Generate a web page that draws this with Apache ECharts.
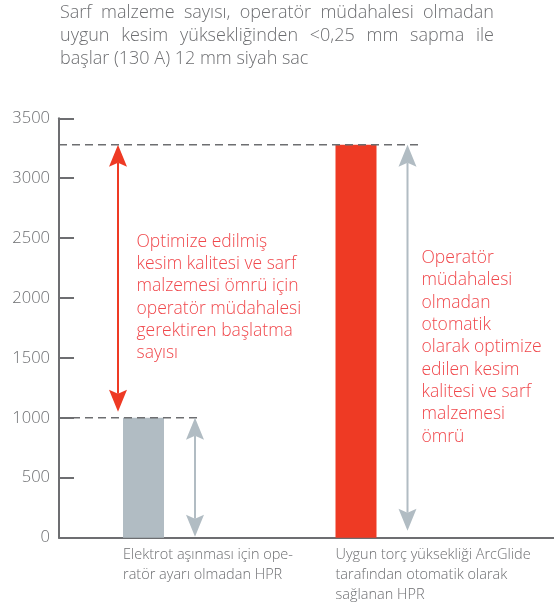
<!DOCTYPE html>
<html>
<head>
<meta charset="utf-8">
<script src="https://cdn.jsdelivr.net/npm/echarts@6/dist/echarts.min.js"></script>
<style>
html, body { margin: 0; padding: 0; background: #fff; }
#main { width: 554px; height: 604px; }
</style>
</head>
<body>
<div id="main"></div>
<script>
// data
var categories = [
    'Elektrot aşınması için ope-\nratör ayarı olmadan HPR',
    'Uygun torç yüksekliği ArcGlide\ntarafından otomatik olarak\nsağlanan HPR'
];
var values = [1000, 3280];
var barColors = ['#b1bcc3', '#ee3a24'];
var yTicks = { min: 0, max: 3500, interval: 500 };
var titleLines = [
    'Sarf malzeme sayısı, operatör müdahalesi olmadan',
    'uygun kesim yüksekliğinden <0,25 mm sapma ile',
    'başlar (130 A) 12 mm siyah sac'
];
var leftNote = 'Optimize edilmiş\nkesim kalitesi ve sarf\nmalzemesi ömrü için\noperatör müdahalesi\ngerektiren başlatma\nsayısı';
var rightNote = 'Operatör\nmüdahalesi\nolmadan\notomatik\nolarak optimize\nedilen kesim\nkalitesi ve sarf\nmalzemesi\nömrü';

var FONT = '"Open Sans", "DejaVu Sans", sans-serif';
var GRAY = '#6d6e71';
var RED_TEXT = '#f0474b';
var AXIS_X = 59;
var BAR_W = 41;
var TITLE_FONT = '300 18px ' + FONT;

// justified title lines (like the original text block)
var ctx = document.createElement('canvas').getContext('2d');
ctx.font = TITLE_FONT;
function titleElems() {
    var out = [];
    var x0 = 60, x1 = 494;
    titleLines.forEach(function(line, li) {
        var y = 15 + li * 23;
        var words = line.split(' ');
        if (li == titleLines.length - 1) {
            out.push({ type: 'text', left: x0, top: y - 11,
                style: { text: line, font: TITLE_FONT, fill: GRAY } });
            return;
        }
        var total = 0;
        words.forEach(function(w) { total += ctx.measureText(w).width; });
        var gap = (x1 - x0 - total) / (words.length - 1);
        var x = x0;
        words.forEach(function(w) {
            out.push({ type: 'text', left: x, top: y - 11,
                style: { text: w, font: TITLE_FONT, fill: GRAY } });
            x += ctx.measureText(w).width + gap;
        });
    });
    return out;
}

function arrow(x, yTop, yBot, color, group) {
    var hw = 9, hh = 22;
    group.push({ type: 'line', shape: { x1: x, y1: yTop + hh - 4, x2: x, y2: yBot - hh + 4 },
        style: { stroke: color, lineWidth: 2 } });
    group.push({ type: 'polygon', shape: { points: [[x, yTop], [x - hw, yTop + hh], [x, yTop + hh - 4], [x + hw, yTop + hh]] },
        style: { fill: color } });
    group.push({ type: 'polygon', shape: { points: [[x, yBot], [x - hw, yBot - hh], [x, yBot - hh + 4], [x + hw, yBot - hh]] },
        style: { fill: color } });
}

function renderNotes(params, api) {
    var i = params.dataIndex;
    var top = api.coord([i, api.value(1)]);
    var zero = api.coord([i, 0]);
    var half = BAR_W / 2;
    var kids = [];
    var ax = top[0] + half + 31;
    kids.push({ type: 'line', shape: { x1: AXIS_X, y1: top[1], x2: ax + (i == 0 ? 3 : 13), y2: top[1] },
        style: { stroke: GRAY, lineWidth: 1.5, lineDash: [8, 5] } });
    arrow(ax, top[1], zero[1] - (i == 0 ? 1 : 7), '#b1bcc3', kids);
    if (i == 0) {
        var hi = api.coord([0, values[1]]);
        arrow(top[0] - half - 5, hi[1], top[1] - 6, '#ee3a24', kids);
    }
    return { type: 'group', children: kids };
}

var chart = echarts.init(document.getElementById('main'));
var option = {
    animation: false,
    textStyle: { fontFamily: FONT, fontWeight: 300 },
    grid: [
        { left: AXIS_X, right: 0, top: 118.3, bottom: 66.3 },
        { left: 37.25, width: 425, top: 118.3, bottom: 66.3 }
    ],
    xAxis: [{
        gridIndex: 0, type: 'value', min: 0, max: 1,
        axisLine: { show: true, onZero: false, lineStyle: { color: GRAY, width: 2 } },
        axisTick: { show: false }, axisLabel: { show: false }, splitLine: { show: false }
    }, {
        gridIndex: 1, type: 'category', data: categories, show: false
    }],
    yAxis: [{
        gridIndex: 0, type: 'value', min: yTicks.min, max: yTicks.max, interval: yTicks.interval,
        axisLine: { show: true, lineStyle: { color: GRAY, width: 2 } },
        axisTick: { show: true, inside: true, length: 15, lineStyle: { color: GRAY, width: 2 } },
        axisLabel: { color: GRAY, fontSize: 16.5, fontWeight: 300, margin: 9, formatter: function(v) { return String(v); } },
        splitLine: { show: false }
    }, {
        gridIndex: 1, type: 'value', min: yTicks.min, max: yTicks.max, show: false
    }],
    series: [{
        type: 'bar', xAxisIndex: 1, yAxisIndex: 1, barWidth: BAR_W,
        data: values.map(function(v, i) { return { value: v, itemStyle: { color: barColors[i] } }; }),
        label: {
            show: true, position: [0, '100%'], offset: [0, 7], formatter: '{b}',
            color: GRAY, fontSize: 14.5, fontWeight: 300, lineHeight: 20, align: 'left', verticalAlign: 'top'
        },
        z: 1
    }, {
        type: 'custom', xAxisIndex: 1, yAxisIndex: 1,
        data: values.map(function(v, i) { return [i, v]; }),
        renderItem: renderNotes, z: 3
    }],
    graphic: titleElems().concat([
        { type: 'text', left: 136.5, top: 230.5, style: { text: leftNote, font: '300 17.5px ' + FONT, fill: RED_TEXT, lineHeight: 22.3 } },
        { type: 'text', left: 421.5, top: 247, style: { text: rightNote, font: '300 17.5px ' + FONT, fill: RED_TEXT, lineHeight: 22.3 } }
    ])
};
chart.setOption(option);
</script>
</body>
</html>
